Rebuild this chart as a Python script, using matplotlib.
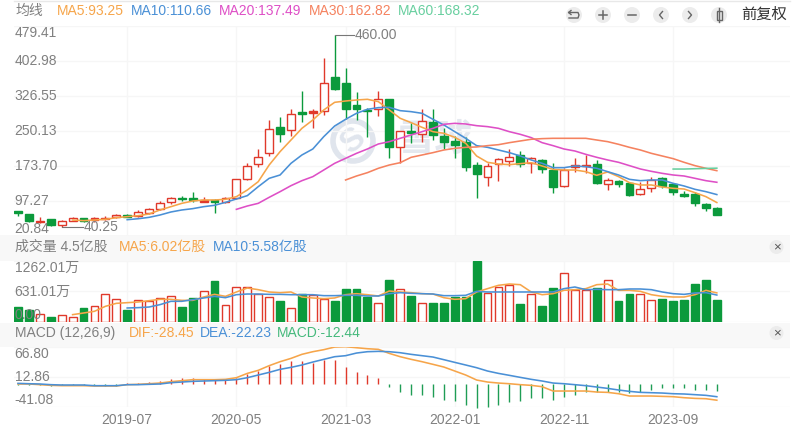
import numpy as np
import matplotlib
matplotlib.use("Agg")
import matplotlib.pyplot as plt
from matplotlib.patches import Circle, Rectangle

plt.rcParams["font.family"] = ["Liberation Sans", "Noto Sans CJK SC"]
plt.rcParams["font.size"] = 10

RED = "#e0392b"
GREEN = "#0b9a3c"
C_MA5 = "#f6a54a"
C_MA10 = "#4a90d6"
C_MA20 = "#de4fc6"
C_MA30 = "#f5825f"
C_MA60 = "#68cf9f"
GREY = "#808080"
GRID = "#f6f6f6"

# monthly candles
opens = [74.0, 67.5, 50.0, 56.6, 44.2, 53.7, 60.2, 55.1, 57.3, 60.9, 66.8, 63.9, 71.1, 79.1, 94.4, 103.9,
         103.9, 95.2, 98.8, 95.2, 102.4, 144.0, 176.7, 201.4, 257.5, 251.7, 291.0, 289.5, 293.2, 368.2, 355.1,
         307.0, 296.1, 297.5, 318.7, 215.3, 250.2, 243.7, 268.4, 238.6, 227.7, 224.7, 175.2, 149.8, 177.4,
         184.7, 197.1, 180.3, 185.4, 164.3, 129.4, 170.9, 172.3, 177.4, 134.5, 139.6, 135.2, 111.2, 124.3,
         147.6, 133.0, 111.9, 111.9, 90.1, 82.0]
highs = [75.5, 67.5, 62.4, 56.6, 55.1, 61.7, 60.2, 61.0, 63.9, 68.2, 68.2, 76.2, 80.6, 96.6, 105.4, 107.5,
         116.3, 105.4, 101.0, 105.4, 144.7, 178.9, 210.2, 272.8, 280.8, 298.3, 336.9, 298.3, 408.9, 460.0, 386.4,
         334.0, 299.0, 337.6, 318.7, 249.5, 267.7, 296.8, 296.8, 255.3, 238.6, 235.7, 182.5, 178.9, 189.8,
         210.2, 206.5, 193.4, 187.6, 178.9, 168.0, 191.3, 196.4, 185.4, 146.1, 142.5, 138.8, 138.8, 149.8,
         149.8, 136.7, 119.2, 117.0, 91.5, 82.8]
lows = [63.9, 51.5, 47.8, 42.7, 40.25, 52.2, 50.7, 51.5, 55.1, 58.8, 60.9, 61.7, 68.2, 77.0, 90.1, 96.6,
        94.4, 93.7, 69.7, 93.0, 101.0, 141.8, 170.9, 195.6, 226.2, 239.3, 269.9, 256.8, 283.7, 339.0, 275.0,
        272.8, 237.1, 282.3, 190.5, 178.9, 222.6, 226.2, 229.8, 210.2, 190.5, 162.9, 102.4, 129.4, 141.0,
        173.8, 171.6, 157.0, 157.8, 113.4, 127.9, 160.0, 158.5, 133.0, 120.6, 127.2, 107.5, 109.7, 116.3,
        124.3, 110.4, 106.1, 86.4, 74.0, 66.0]
closes = [71.1, 53.0, 53.7, 44.2, 53.7, 59.5, 52.2, 58.8, 59.5, 66.8, 62.5, 73.3, 78.4, 92.2, 103.2, 100.3,
          99.5, 98.8, 95.2, 103.2, 144.7, 172.3, 192.0, 254.6, 243.0, 287.4, 287.4, 293.9, 355.1, 342.0, 298.3,
          298.3, 293.2, 320.1, 215.3, 249.5, 245.9, 270.6, 240.8, 226.2, 218.2, 171.6, 154.9, 172.3, 188.3,
          193.4, 177.4, 191.3, 165.8, 127.2, 165.0, 175.2, 175.2, 135.9, 142.5, 134.5, 110.4, 122.1, 143.2,
          129.4, 115.5, 107.5, 91.5, 80.6, 66.8]

ma5 = [55.1, 53.7, 55.1, 56.6, 60.2, 62.4, 64.6, 68.2, 77.0, 84.2, 91.5, 96.6, 98.8, 98.8, 100.3, 106.1,
       120.6, 138.8, 175.2, 204.4, 229.8, 255.3, 273.5, 295.4, 312.1, 315.0, 317.2, 318.7, 313.6, 295.4,
       277.2, 267.7, 257.5, 248.0, 244.4, 235.7, 222.6, 194.9, 181.1, 177.4, 176.0, 178.2, 180.3, 173.0,
       165.8, 164.3, 164.3, 160.7, 152.7, 160.0, 149.8, 136.7, 131.6, 131.6, 127.2, 124.3, 122.8, 114.8,
       106.1, 93.25]
ma10 = [55.8, 57.9, 60.9, 66.0, 72.6, 77.0, 79.9, 84.2, 87.2, 93.7, 101.0, 108.3, 127.9, 146.1, 153.4,
        178.9, 197.1, 210.2, 237.1, 260.4, 275.0, 288.1, 296.8, 300.5, 301.2, 293.9, 291.7, 288.1, 275.0,
        262.6, 248.0, 233.5, 217.5, 213.8, 208.0, 202.2, 194.9, 186.2, 178.9, 169.4, 169.4, 173.0, 171.6,
        168.0, 160.7, 153.4, 143.9, 141.0, 142.5, 142.5, 135.2, 129.4, 122.1, 117.0, 110.66]
ma20 = [78.4, 85.7, 91.5, 104.6, 117.0, 130.1, 141.0, 149.8, 164.3, 178.9, 189.8, 200.7, 210.2, 221.1,
        226.2, 233.5, 240.8, 248.0, 255.3, 264.1, 266.2, 264.8, 261.1, 259.0, 255.3, 248.0, 242.2, 235.0,
        224.0, 217.5, 210.2, 205.8, 198.5, 192.0, 186.2, 181.1, 173.8, 166.5, 161.4, 157.0, 153.4, 151.2,
        146.1, 141.0, 137.49]
ma30 = [142.5, 151.2, 158.5, 168.0, 175.2, 180.3, 192.0, 197.1, 202.2, 208.0, 211.6, 213.8, 214.6, 217.5,
        219.6, 224.0, 227.7, 231.4, 232.8, 233.5, 233.5, 233.5, 233.5, 229.8, 226.2, 220.4, 213.8, 208.0,
        200.7, 194.9, 189.1, 181.1, 173.8, 168.0, 162.82]
ma60 = [166.4, 166.4, 167.1, 167.8, 168.32]

# volume, in the unit of the axis labels
volume = [303, 248, 166, 97, 138, 110, 297, 324, 579, 476, 248, 448, 434, 503, 531, 303, 503, 634, 848, 352,
          731, 731, 572, 524, 434, 297, 572, 565, 469, 428, 690, 690, 524, 400, 876, 690, 538, 393, 400, 400,
          510, 510, 1262, 600, 724, 759, 379, 579, 324, 710, 1021, 655, 655, 710, 869, 428, 579, 579, 448,
          483, 428, 455, 779, 876, 450]
vol_ma5 = [152, 186, 221, 324, 386, 400, 414, 441, 469, 469, 448, 448, 517, 572, 531, 621, 703, 669, 621, 607,
           621, 517, 497, 483, 497, 565, 586, 565, 538, 641, 621, 607, 586, 579, 503, 469, 483, 621, 690, 759,
           786, 772, 621, 565, 586, 655, 669, 690, 772, 786, 655, 655, 634, 565, 531, 517, 517, 565, 655, 602]
vol_ma10 = [290, 297, 310, 359, 428, 428, 462, 497, 531, 503, 565, 579, 579, 572, 572, 565, 565, 565, 545, 545,
            552, 552, 538, 538, 586, 607, 593, 586, 579, 545, 545, 552, 634, 621, 621, 621, 621, 621, 621, 621,
            690, 724, 669, 676, 669, 669, 683, 683, 669, 621, 586, 572, 600, 607, 558]

dif = [0.4, 0.4, -0.8, -2.0, -2.6, -2.6, -2.6, -3.2, -3.2, -3.2, -0.8, -0.2, 0.9, 2.1, 4.5, 6.3, 8.1, 8.1, 8.1,
       8.7, 11.6, 19.3, 24.7, 33.0, 40.1, 46.0, 53.2, 57.9, 61.5, 66.2, 66.8, 65.0, 63.2, 62.1, 54.9, 49.0,
       44.3, 40.1, 35.4, 30.6, 23.5, 16.4, 7.5, 3.9, 2.1, 0.9, -0.8, -2.0, -4.4, -12.1, -12.1, -12.1, -12.1,
       -13.9, -14.5, -16.9, -21.0, -21.0, -21.0, -21.6, -22.2, -24.0, -25.2, -25.8, -28.45]
dea = [1.5, 0.9, 0.4, -0.8, -1.4, -1.4, -1.4, -2.6, -2.6, -2.6, -0.8, -0.8, -0.2, 0.4, 2.7, 3.9, 5.1, 5.7, 6.3,
       6.9, 8.1, 11.6, 16.4, 21.1, 26.5, 30.0, 34.2, 39.5, 44.3, 49.0, 50.8, 55.5, 57.9, 58.5, 57.9, 56.1,
       53.2, 50.8, 48.4, 43.7, 38.9, 34.2, 29.4, 23.5, 19.3, 15.8, 12.2, 8.7, 5.7, 2.1, 0.9, -0.8, -2.6, -5.0,
       -7.4, -10.3, -12.7, -14.5, -15.1, -15.7, -16.9, -17.4, -18.6, -19.8, -22.23]
macd = [-1.0, -1.0, -1.0, -2.5, -2.0, -2.0, -2.0, -2.0, -3.0, -3.0, 2.1, 2.7, 4.5, 6.3, 8.7, 10.4, 11.0, 8.7,
        6.9, 8.7, 11.0, 17.6, 23.5, 33.0, 36.0, 41.9, 41.9, 37.7, 42.5, 42.5, 30.6, 21.7, 15.8, 11.6, -5.0,
        -13.3, -19.2, -19.2, -23.4, -28.1, -29.9, -37.0, -43.0, -41.2, -37.0, -31.1, -29.9, -25.2, -25.2,
        -27.5, -23.4, -19.2, -13.3, -13.3, -13.3, -14.5, -16.3, -14.5, -10.3, -7.4, -7.4, -7.4, -10.3, -10.3,
        -12.44]

price_ticks = [479.41, 402.98, 326.55, 250.13, 173.70, 97.27, 20.84]
vol_ticks = [1262.01, 631.01, 0]
vol_labels = ["1262.01万", "631.01万", "0.00"]
macd_ticks = [66.80, 12.86, -41.08]
date_pos = [10, 20, 30, 40, 50, 60]
date_labels = ["2019-07", "2020-05", "2021-03", "2022-01", "2022-11", "2023-09"]

W, H = 800, 434
XMIN, XMAX = -0.367, 70.7
idx = np.arange(len(closes))


def make_axes(top, bottom):
    a = fig.add_axes([14 / W, 1 - bottom / H, 776 / W, (bottom - top) / H])
    a.patch.set_alpha(0)
    a.set_xlim(XMIN, XMAX)
    for s in a.spines.values():
        s.set_visible(False)
    a.tick_params(length=0, labelleft=False, labelbottom=False)
    a.set_xticks(date_pos)
    a.grid(True, color=GRID, lw=1)
    a.set_axisbelow(True)
    return a


def right_line(a, values, color, lw=1.15):
    a.plot(idx[-len(values):], values, color=color, lw=lw, zorder=5, solid_joinstyle="round")


def y_labels(a, ticks, labels):
    a.set_yticks(ticks)
    last = len(ticks) - 1
    for i, (t, lab) in enumerate(zip(ticks, labels)):
        va = "top" if i == 0 else ("bottom" if i == last else "center")
        a.text(XMIN + 0.05, t, lab, color=GREY, va=va, ha="left", zorder=8)


fig = plt.figure(figsize=(W / 100, H / 100), dpi=100, facecolor="white")

# page layer: header bands, watermark, toolbar
bg = fig.add_axes([0, 0, 1, 1], zorder=-1)
bg.set_xlim(0, W)
bg.set_ylim(H, 0)
bg.axis("off")
bg.plot([14, 790], [1, 1], color="#e8e8e8", lw=1)
bg.add_patch(Rectangle((0, 235), 790, 26, color="#f8f8f8", lw=0))
bg.add_patch(Rectangle((0, 323), 790, 24, color="#f8f8f8", lw=0))
bg.add_patch(Circle((353, 141), 20, fill=False, ec="#e0e5ed", lw=4))
bg.text(353, 141, "S", color="#e0e5ed", fontsize=24, fontweight="bold", ha="center", va="center", rotation=40)
bg.text(435, 141, "雪球", color="#e4e8ef", fontsize=27, fontweight="bold", ha="center", va="center")

tool_x = [574, 603, 632, 661, 690, 719]
for tx in tool_x:
    bg.add_patch(Circle((tx, 15), 8, color="#ececec", lw=0))
ic = "#666666"
bg.plot([569, 578, 579, 578, 569], [12.5, 12.5, 15, 18, 18], color=ic, lw=1)
bg.plot([571, 568.5, 571], [10.5, 12.5, 14.5], color=ic, lw=1)
bg.plot([599, 607], [15, 15], color=ic, lw=1.1)
bg.plot([603, 603], [11, 19], color=ic, lw=1.1)
bg.plot([628, 636], [15, 15], color=ic, lw=1.1)
bg.plot([662.5, 659.5, 662.5], [11.5, 15, 18.5], color=ic, lw=1)
bg.plot([688.5, 691.5, 688.5], [11.5, 15, 18.5], color=ic, lw=1)
bg.add_patch(Rectangle((716.5, 10.5), 5, 9, fill=False, ec=ic, lw=1))
bg.plot([719, 719], [8, 22], color=ic, lw=1, zorder=1)
bg.text(741, 15, "前复权", color="#333333", fontsize=11, va="center")

for cy in [247, 333]:
    bg.add_patch(Circle((776.5, cy), 7, color="#ececec", lw=0))
    bg.text(776.5, cy, "×", color="#555555", fontsize=9.5, ha="center", va="center")

# legends
for x, txt, col in [(15, "均线", GREY), (57, "MA5:93.25", C_MA5), (131, "MA10:110.66", C_MA10),
                    (219, "MA20:137.49", C_MA20), (309, "MA30:162.82", C_MA30), (398, "MA60:168.32", C_MA60)]:
    bg.text(x, 11, txt, color=col, va="center")
for x, txt, col in [(15, "成交量 4.5亿股", GREY), (119, "MA5:6.02亿股", C_MA5), (213, "MA10:5.58亿股", C_MA10)]:
    bg.text(x, 247, txt, color=col, va="center")
for x, txt, col in [(15, "MACD (12,26,9)", GREY), (129, "DIF:-28.45", C_MA5), (200, "DEA:-22.23", C_MA10),
                    (277, "MACD:-12.44", "#45b97c")]:
    bg.text(x, 333, txt, color=col, va="center")

# price panel
ax = make_axes(25.7, 235.7)
ax.set_ylim(20.84, 479.41)
y_labels(ax, price_ticks, [f"{t:.2f}" for t in price_ticks])
for i in idx:
    up = closes[i] >= opens[i]
    col = RED if up else GREEN
    lo, hi = min(opens[i], closes[i]), max(opens[i], closes[i])
    ax.vlines(i, lows[i], highs[i], color=col, lw=1, zorder=2)
    ax.bar(i, hi - lo, bottom=lo, width=0.72, facecolor="white" if up and hi - lo > 5 else col,
           edgecolor=col, lw=1, zorder=3)
right_line(ax, ma5, C_MA5)
right_line(ax, ma10, C_MA10)
right_line(ax, ma20, C_MA20)
right_line(ax, ma30, C_MA30)
right_line(ax, ma60, C_MA60)

# extreme markers
i_hi = int(np.argmax(highs))
i_lo = int(np.argmin(lows))
ax.plot([i_hi, i_hi + 1.75], [highs[i_hi], highs[i_hi]], color="#777777", lw=0.8, zorder=4)
ax.text(i_hi + 1.8, highs[i_hi], f"{highs[i_hi]:.2f}", color=GREY, va="center", ha="left")
ax.plot([i_lo, i_lo + 1.95], [lows[i_lo], lows[i_lo]], color="#777777", lw=0.8, zorder=4)
ax.text(i_lo + 2.0, lows[i_lo], f"{lows[i_lo]:.2f}", color=GREY, va="center", ha="left")

# volume panel
ax_vol = make_axes(261, 322)
ax_vol.set_ylim(0, 1262.01)
y_labels(ax_vol, vol_ticks, vol_labels)
for i in idx:
    up = closes[i] >= opens[i]
    col = RED if up else GREEN
    ax_vol.bar(i, volume[i], width=0.72, facecolor="white" if up else col, edgecolor=col, lw=1, zorder=3)
right_line(ax_vol, vol_ma5, C_MA5)
right_line(ax_vol, vol_ma10, C_MA10)

# MACD panel
ax_macd = make_axes(346.7, 407.3)
ax_macd.set_ylim(-41.08, 66.80)
y_labels(ax_macd, macd_ticks, [f"{t:.2f}" for t in macd_ticks])
for i in idx:
    ax_macd.vlines(i, 0, macd[i], color=RED if macd[i] > 0 else "#1f9d55", lw=1, zorder=3, clip_on=False)
right_line(ax_macd, dif, C_MA5)
right_line(ax_macd, dea, C_MA10)
for p, lab in zip(date_pos, date_labels):
    ax_macd.text(p, -41.08 - 10, lab, color=GREY, ha="center", va="top", clip_on=False)

fig.savefig("out.png", dpi=100)
